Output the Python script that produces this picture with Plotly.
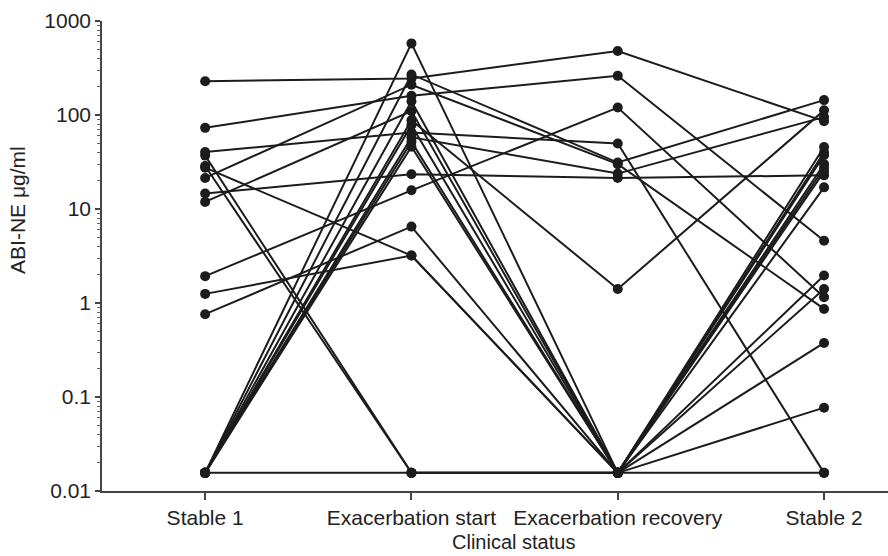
import plotly.graph_objects as go

# Clinical time points (x categories)
statuses = ["Stable 1", "Exacerbation start", "Exacerbation recovery", "Stable 2"]

# Value used for samples below the detection limit
LOD = 0.0156

# ABI-NE (µg/ml) per patient at each clinical time point
stable1 = [229, 73, 40.4, 37, 28.7, 27.5, 21.4, 14.6, 11.9, 1.93, 1.25, 0.76,
           LOD, LOD, LOD, LOD, LOD, LOD, LOD, LOD, LOD]
exac_start = [245, 160, 65, LOD, LOD, 3.2, 210, 23.4, 110, 15.8, 3.2, 6.5,
              578, 270, 88, 78, 58, 52, 46, 140, LOD]
exac_recovery = [479, 261, 49.7, LOD, LOD, LOD, 30, 21.4, LOD, 120, LOD, LOD,
                 LOD, 31.2, 1.41, LOD, 23.8, LOD, LOD, LOD, LOD]
stable2 = [86, 4.6, LOD, 45.7, 37.3, 1.96, 0.865, 22.8, 27.3, 1.15, 1.41, 0.376,
           17, 144, 112, 40, 95, 30, 25, 0.077, LOD]

y_tick_vals = [0.01, 0.1, 1, 10, 100, 1000]
y_tick_text = ["0.01", "0.1", "1", "10", "100", "1000"]
y_minor_vals = [m * 10 ** e for e in range(-2, 3) for m in range(2, 10)]

FONT = "Liberation Sans, Arial, sans-serif"
INK = "#1c1c1c"
TEXT = "#222"
FS = 21

fig = go.Figure()
for i in range(len(stable1)):
    fig.add_trace(go.Scatter(
        x=[0, 1, 2, 3],
        y=[stable1[i], exac_start[i], exac_recovery[i], stable2[i]],
        mode="lines+markers",
        line=dict(color=INK, width=2),
        marker=dict(color=INK, size=10),
        showlegend=False,
        hoverinfo="skip",
    ))

fig.update_layout(
    width=888, height=556,
    margin=dict(l=102, r=0, t=21, b=65),
    plot_bgcolor="white", paper_bgcolor="white",
    font=dict(family=FONT, size=FS, color=TEXT),
    xaxis=dict(
        range=[-0.5, 3.31],
        tickvals=[0, 1, 2, 3], ticktext=statuses,
        showline=True, linecolor="#444", linewidth=1.5,
        ticks="outside", ticklen=7, tickcolor="#444", tickwidth=1.5,
        showgrid=False, zeroline=False,
    ),
    yaxis=dict(
        type="log", range=[-2, 3],
        tickvals=y_tick_vals, ticktext=y_tick_text,
        showline=True, linecolor="#444", linewidth=1.5,
        ticks="outside", ticklen=5, tickcolor="#444", tickwidth=1.5,
        minor=dict(tickvals=y_minor_vals, ticks="outside", ticklen=3,
                   tickcolor="#666", tickwidth=1),
        showgrid=False, zeroline=False,
    ),
    annotations=[
        dict(text="Clinical status", xref="paper", yref="paper",
             x=0.524, y=0, yshift=-51, yanchor="middle", showarrow=False,
             font=dict(family=FONT, size=20, color=TEXT)),
        dict(text="ABI-NE \u03bcg/ml", xref="paper", yref="paper",
             x=0, xshift=-84, xanchor="center", y=0.598, yanchor="middle",
             textangle=-90, showarrow=False,
             font=dict(family=FONT, size=FS, color=TEXT)),
    ],
)

fig.write_html("out.html")
